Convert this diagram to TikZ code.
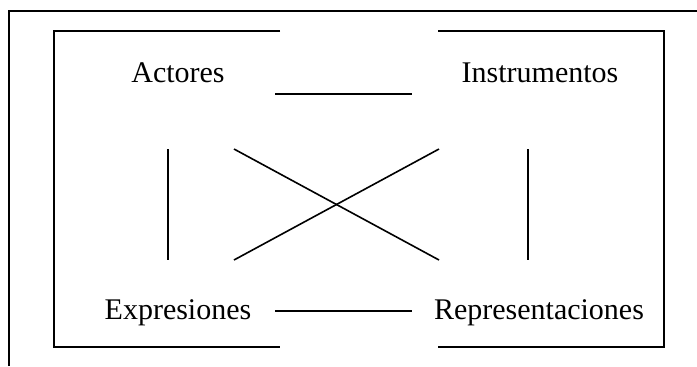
\documentclass[tikz,border=0pt]{standalone}
\usepackage{fontspec}
\setmainfont{Liberation Serif}
\usetikzlibrary{positioning}

\begin{document}
\begin{tikzpicture}
        [x=0.5pt, y=-0.5pt,
          concept/.style={
            anchor=base,
            inner sep=0pt,
            font=\fontsize{15}{18}\selectfont},
          frame/.style={
            draw,
            line width=0.9pt},
          link/.style={
            draw,
            line width=0.8pt}]
        \useasboundingbox (0,0) rectangle (697,366);

        \draw[frame, line width=0.7pt] (9,366) -- (9,11) -- (697,11);
        \draw[frame] (280,31) -- (54,31) -- (54,347) -- (280,347);
        \draw[frame] (438,31) -- (664,31) -- (664,347) -- (438,347);

        \node[concept] (act) at (178,82) {Actores};
        \node[concept] (ins) at (540,82) {Instrumentos};
        \node[concept] (exp) at (178,319) {Expresiones};
        \node[concept] (rep) at (539,319) {Representaciones};

        \coordinate (actR) at (275,94);
        \coordinate (insL) at (412,94);
        \coordinate (expR) at (275,311);
        \coordinate (repL) at (412,311);
        \coordinate (actD) at (168,149);
        \coordinate (expU) at (168,260);
        \coordinate (insD) at (528,149);
        \coordinate (repU) at (528,260);
        \coordinate (actX) at (234,149);
        \coordinate (repX) at (439,260);
        \coordinate (insX) at (439,149);
        \coordinate (expX) at (234,260);

        \draw[link] (actR) -- (insL);
        \draw[link] (expR) -- (repL);
        \draw[link] (actD) -- (expU);
        \draw[link] (insD) -- (repU);
        \draw[link] (actX) -- (repX);
        \draw[link] (insX) -- (expX);
      \end{tikzpicture}
\end{document}
